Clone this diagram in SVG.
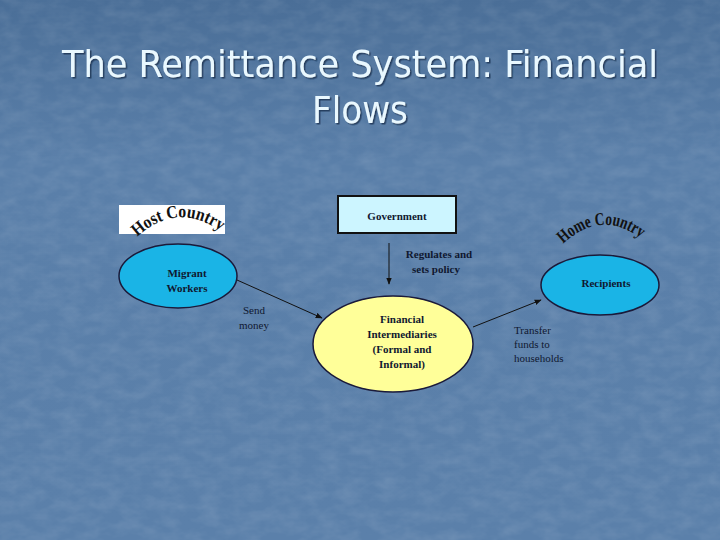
<svg xmlns="http://www.w3.org/2000/svg" width="720" height="540" viewBox="0 0 720 540">
  <defs>
    <linearGradient id="bg" x1="0" y1="0" x2="0" y2="1">
      <stop offset="0" stop-color="#4a6e97"/>
      <stop offset="0.3" stop-color="#5a7fa9"/>
      <stop offset="1" stop-color="#5b80aa"/>
    </linearGradient>
    <filter id="tex" x="0" y="0" width="100%" height="100%">
      <feTurbulence type="fractalNoise" baseFrequency="0.05 0.09" numOctaves="3" seed="7" result="n"/>
      <feColorMatrix in="n" type="matrix" values="0 0 0 0 1  0 0 0 0 1  0 0 0 0 1  0 0 0 0.3 -0.1"/>
    </filter>
    <filter id="shadow" x="-5%" y="-5%" width="110%" height="120%">
      <feDropShadow dx="1.5" dy="1.5" stdDeviation="0.6" flood-color="#1d3350" flood-opacity="0.8"/>
    </filter>
    <marker id="arrow" viewBox="0 0 10 10" refX="9" refY="5" markerWidth="7" markerHeight="7" orient="auto" markerUnits="userSpaceOnUse">
      <path d="M0,1 L10,5 L0,9 z" fill="#111"/>
    </marker>
    <path id="hostArc" d="M 137 237 Q 180 198 227 236"/>
    <path id="homeArc" d="M 563 244 Q 603 206 647 243"/>
  </defs>
  <style>
    .title { font-family: "DejaVu Sans Condensed", "DejaVu Sans", sans-serif; font-size: 38px; fill: #e9f8ff; text-anchor: middle; }
    .lbl { font-family: "Liberation Serif", serif; font-size: 11px; fill: #101830; text-anchor: middle; font-weight: bold; }
    .note { font-family: "Liberation Serif", serif; font-size: 11px; fill: #101830; }
    .arch { font-family: "Liberation Serif", serif; font-size: 18px; font-weight: bold; fill: #111; }
    .edge { stroke: #111; stroke-width: 1; fill: none; marker-end: url(#arrow); }
    .node { stroke: #1a1a3a; stroke-width: 1.5; }
  </style>
  <rect width="720" height="540" fill="url(#bg)"/>
  <rect width="720" height="540" filter="url(#tex)" opacity="0.55"/>

  <g id="title" filter="url(#shadow)">
    <text class="title" x="360" y="77" textLength="596" lengthAdjust="spacingAndGlyphs">The Remittance System: Financial</text>
    <text class="title" x="360" y="123">Flows</text>
  </g>

  <g id="host-country">
    <rect x="119" y="205" width="106" height="29" fill="#ffffff"/>
    <text class="arch"><textPath href="#hostArc" textLength="92" lengthAdjust="spacingAndGlyphs">Host Country</textPath></text>
  </g>

  <g id="home-country">
    <text class="arch"><textPath href="#homeArc" textLength="86" lengthAdjust="spacingAndGlyphs">Home Country</textPath></text>
  </g>

  <g id="government">
    <rect x="338" y="196" width="118" height="37" fill="#ccf5ff" stroke="#111" stroke-width="2"/>
    <text class="lbl" x="397" y="220">Government</text>
  </g>

  <g id="migrant-workers">
    <ellipse class="node" cx="178" cy="276" rx="59" ry="32" fill="#1ab4e6"/>
    <text class="lbl" x="187" y="277">Migrant</text>
    <text class="lbl" x="187" y="292">Workers</text>
  </g>

  <g id="financial-intermediaries">
    <ellipse class="node" cx="393" cy="344" rx="80" ry="48" fill="#ffff99"/>
    <text class="lbl" x="402" y="323">Financial</text>
    <text class="lbl" x="402" y="338">Intermediaries</text>
    <text class="lbl" x="402" y="353">(Formal and</text>
    <text class="lbl" x="402" y="368">Informal)</text>
  </g>

  <g id="recipients">
    <ellipse class="node" cx="600" cy="285" rx="59" ry="30" fill="#1ab4e6"/>
    <text class="lbl" x="606" y="287">Recipients</text>
  </g>

  <g id="connectors">
    <line class="edge" x1="389" y1="243" x2="389" y2="284"/>
    <line class="edge" x1="237" y1="280" x2="322" y2="318"/>
    <line class="edge" x1="473" y1="327" x2="541" y2="300"/>
  </g>

  <g id="edge-labels">
    <text class="lbl" x="439" y="258">Regulates and</text>
    <text class="lbl" x="436" y="273">sets policy</text>
    <text class="note" x="254" y="314" text-anchor="middle">Send</text>
    <text class="note" x="254" y="329" text-anchor="middle">money</text>
    <text class="note" x="514" y="334">Transfer</text>
    <text class="note" x="514" y="348">funds to</text>
    <text class="note" x="514" y="362">households</text>
  </g>
</svg>
